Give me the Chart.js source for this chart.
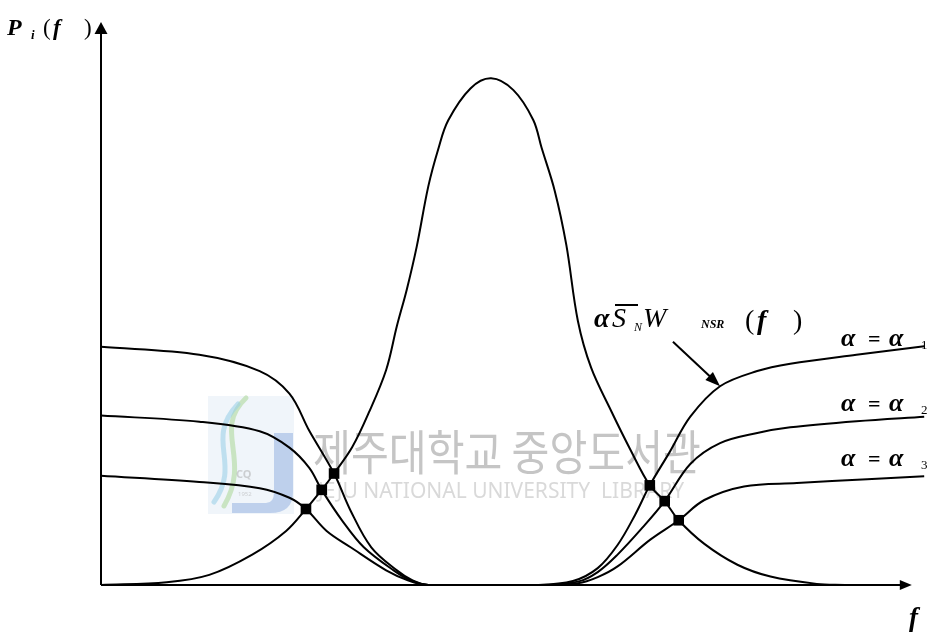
<!DOCTYPE html>
<html>
<head>
<meta charset="utf-8">
<script src="https://cdn.jsdelivr.net/npm/chart.js@4"></script>
<style>
  body { margin: 0; background: #fff; }
  canvas { display: block; }
</style>
</head>
<body>
<canvas id="grafico" width="935" height="636"></canvas>
<script>
// Signal spectrum (bell) and the three weighted noise curves, f on 0..100, P on 0..100
const sinalF = [0, 7.95, 13.1, 18.3, 22.4, 24.8, 26.7, 28.2, 30.4, 32.4, 34.5, 35.8, 37.0, 38.2, 39.6, 40.8, 42.0, 44.7, 47.2, 49.9, 52.3, 53.3, 54.9, 56.3, 57.7, 59.3, 61.7, 64.1, 66.4, 68.2, 69.9, 73.0, 77.0, 81.0, 86.6, 90];
const sinalP = [0, 0.5, 1.8, 5.4, 9.6, 13.5, 16.9, 19.8, 24.5, 30.6, 38.2, 46.0, 52.5, 60.1, 70.8, 77.4, 82.5, 88.2, 90.0, 87.9, 82.6, 77.7, 70.0, 60.4, 46.9, 38.6, 31.0, 23.9, 17.7, 14.9, 11.5, 7.3, 3.6, 1.5, 0.2, 0];

const alfa1F = [0, 11.9, 19.2, 22.8, 25.2, 28.2, 30.2, 32.7, 35.8, 37.7, 39.6, 52.9, 57.1, 60.1, 62.5, 64.6, 66.4, 68.8, 71.3, 74.9, 79.4, 83.4, 91.4, 99.6];
const alfa1P = [42.3, 40.9, 38.0, 34.0, 27.4, 19.8, 13.2, 6.7, 2.6, 0.8, 0, 0, 0.7, 3.0, 7.1, 12.4, 17.7, 23.6, 29.9, 35.3, 38.0, 39.3, 40.9, 42.4];

const alfa2F = [0, 11.9, 19.2, 22.8, 25.2, 26.7, 29.2, 31.8, 35.4, 37.5, 39.6, 52.9, 57.7, 60.1, 62.5, 65.4, 68.2, 71.3, 74.9, 79.4, 83.4, 91.4, 99.6];
const alfa2P = [30.1, 29.0, 27.3, 24.4, 20.8, 16.9, 11.4, 6.7, 2.6, 0.8, 0, 0, 0.6, 2.3, 5.4, 10.0, 14.9, 21.5, 25.2, 27.0, 28.0, 29.1, 29.9];

const alfa3F = [0, 11.9, 19.2, 22.8, 24.8, 27.3, 30.2, 34.5, 37.2, 39.6, 52.9, 57.7, 60.1, 62.5, 66.5, 69.9, 73.0, 77.8, 84.2, 92.7, 99.6];
const alfa3P = [19.4, 18.3, 17.2, 15.5, 13.5, 9.6, 6.7, 2.6, 0.8, 0, 0, 0.3, 1.4, 3.3, 8.1, 11.5, 15.1, 17.5, 18.1, 18.8, 19.3];

// crossing points of the bell with each curve
const cruzF = [24.8, 26.7, 28.2, 66.4, 68.2, 69.9];
const cruzP = [13.5, 16.9, 19.8, 17.7, 14.9, 11.5];

const indices = ["1", "2", "3"];
const fMaxEixo = 98.1;           // end of the f axis arrow
const setaInicio = [69.2, 43.2]; // tail of the pointer to the α1 curve

function pontos(fs, ps) {
  return fs.map((f, i) => ({ x: f, y: ps[i] }));
}

function curva(label, fs, ps) {
  return {
    label: label,
    data: pontos(fs, ps),
    borderColor: "#000",
    borderWidth: 2,
    pointRadius: 0,
    fill: false,
    tension: 0.35,
    clip: false,
  };
}

function setaCheia(ctx, x0, y0, x1, y1, comp, larg) {
  const ang = Math.atan2(y1 - y0, x1 - x0);
  ctx.beginPath();
  ctx.moveTo(x1, y1);
  ctx.lineTo(x1 - comp * Math.cos(ang) + larg * Math.sin(ang), y1 - comp * Math.sin(ang) - larg * Math.cos(ang));
  ctx.lineTo(x1 - comp * Math.cos(ang) - larg * Math.sin(ang), y1 - comp * Math.sin(ang) + larg * Math.cos(ang));
  ctx.closePath();
  ctx.fill();
}

function texto(ctx, s, x, y, font) {
  ctx.font = font;
  ctx.fillText(s, x, y);
}

const serif = "'Liberation Serif', 'Times New Roman', serif";

const desenhoPlugin = {
  id: "desenho",
  beforeDatasetsDraw(chart) {
    const ctx = chart.ctx;
    const sx = chart.scales.x;
    const sy = chart.scales.y;
    ctx.save();

    // library watermark
    ctx.fillStyle = "rgba(225, 235, 245, 0.5)";
    ctx.fillRect(208, 396, 86, 118);
    ctx.lineCap = "round";
    ctx.lineWidth = 5;
    ctx.strokeStyle = "rgba(170, 215, 150, 0.55)";
    ctx.beginPath();
    ctx.moveTo(246, 398);
    ctx.bezierCurveTo(212, 430, 252, 458, 224, 506);
    ctx.stroke();
    ctx.strokeStyle = "rgba(150, 205, 232, 0.55)";
    ctx.beginPath();
    ctx.moveTo(238, 404);
    ctx.bezierCurveTo(204, 440, 242, 462, 214, 502);
    ctx.stroke();
    ctx.fillStyle = "rgba(150, 178, 225, 0.55)";
    ctx.beginPath();
    ctx.moveTo(274, 433);
    ctx.lineTo(293, 433);
    ctx.lineTo(293, 492);
    ctx.quadraticCurveTo(293, 513, 270, 513);
    ctx.lineTo(232, 513);
    ctx.lineTo(232, 503);
    ctx.lineTo(266, 503);
    ctx.quadraticCurveTo(274, 503, 274, 492);
    ctx.closePath();
    ctx.fill();
    ctx.fillStyle = "rgba(160, 160, 160, 0.45)";
    ctx.font = "bold 11px 'Noto Sans'";
    ctx.fillText("CQ", 236, 478);
    ctx.font = "6px 'Noto Sans'";
    ctx.fillText("1952", 238, 496);

    ctx.fillStyle = "rgba(150, 150, 150, 0.55)";
    ctx.font = "48px 'Noto Sans CJK KR'";
    ctx.fillText("제주대학교 중앙도서관", 313, 470, 388);
    ctx.fillStyle = "rgba(170, 170, 170, 0.45)";
    ctx.font = "21px 'Noto Sans'";
    ctx.fillText("JEJU NATIONAL UNIVERSITY  LIBRARY", 318, 498, 390);

    // axes with arrow heads
    const x0 = sx.getPixelForValue(0);
    const y0 = sy.getPixelForValue(0);
    const yTopo = sy.getPixelForValue(100);
    const xFim = sx.getPixelForValue(fMaxEixo);
    ctx.strokeStyle = "#000";
    ctx.fillStyle = "#000";
    ctx.lineWidth = 2;
    ctx.lineCap = "butt";
    ctx.beginPath();
    ctx.moveTo(x0, y0);
    ctx.lineTo(x0, yTopo + 8);
    ctx.moveTo(x0, y0);
    ctx.lineTo(xFim - 8, y0);
    ctx.stroke();
    setaCheia(ctx, x0, y0, x0, yTopo, 12, 6.5);
    setaCheia(ctx, x0, y0, xFim, y0, 12, 5);
    ctx.restore();
  },
  afterDatasetsDraw(chart) {
    const ctx = chart.ctx;
    const sx = chart.scales.x;
    const sy = chart.scales.y;
    ctx.save();
    ctx.fillStyle = "#000";
    ctx.strokeStyle = "#000";
    ctx.textBaseline = "alphabetic";

    // P_i (f)
    texto(ctx, "P", 7, 35, "italic bold 24px " + serif);
    texto(ctx, "i", 31, 39, "italic bold 13px " + serif);
    texto(ctx, "(", 43, 35, "23px " + serif);
    texto(ctx, "f", 53, 35, "italic bold 23px " + serif);
    texto(ctx, ")", 84, 35, "23px " + serif);

    // f at the end of the horizontal axis
    texto(ctx, "f", 909, 626, "italic bold 27px " + serif);

    // αS̄_N W_NSR (f)
    texto(ctx, "α", 594, 327, "italic bold 28px " + serif);
    texto(ctx, "S", 612, 327, "italic 28px " + serif);
    ctx.lineWidth = 2;
    ctx.beginPath();
    ctx.moveTo(615, 305);
    ctx.lineTo(638, 305);
    ctx.stroke();
    texto(ctx, "N", 634, 331, "italic 12px " + serif);
    texto(ctx, "W", 643, 327, "italic 28px " + serif);
    texto(ctx, "NSR", 701, 328, "italic bold 12px " + serif);
    texto(ctx, "(", 745, 329, "28px " + serif);
    texto(ctx, "f", 757, 329, "italic bold 28px " + serif);
    texto(ctx, ")", 793, 329, "28px " + serif);

    // pointer to the α1 curve
    const ponta = 19;
    const ax0 = sx.getPixelForValue(setaInicio[0]);
    const ay0 = sy.getPixelForValue(setaInicio[1]);
    const ax1 = sx.getPixelForValue(alfa1F[ponta]);
    const ay1 = sy.getPixelForValue(alfa1P[ponta]);
    ctx.beginPath();
    ctx.moveTo(ax0, ay0);
    ctx.lineTo(ax1 - 6, ay1 - 6);
    ctx.stroke();
    setaCheia(ctx, ax0, ay0, ax1, ay1, 15, 5.5);

    // curve labels
    const linhasBase = [346, 411, 466];
    indices.forEach((n, i) => {
      const y = linhasBase[i];
      texto(ctx, "α", 841, y, "italic bold 26px " + serif);
      texto(ctx, "=", 868, y, "bold 22px " + serif);
      texto(ctx, "α", 889, y, "italic bold 26px " + serif);
      texto(ctx, n, 921, y + 3, "13px " + serif);
    });
    ctx.restore();
  },
};

const grafico = new Chart(document.getElementById("grafico"), {
  type: "line",
  data: {
    datasets: [
      curva("sinal", sinalF, sinalP),
      curva("α = α1", alfa1F, alfa1P),
      curva("α = α2", alfa2F, alfa2P),
      curva("α = α3", alfa3F, alfa3P),
      {
        label: "cruzamentos",
        data: pontos(cruzF, cruzP),
        showLine: false,
        pointStyle: "rect",
        pointRadius: 7.5,
        pointBackgroundColor: "#000",
        pointBorderColor: "#000",
        pointBorderWidth: 0,
        clip: false,
      },
    ],
  },
  options: {
    responsive: false,
    animation: false,
    devicePixelRatio: 1,
    layout: { padding: { left: 101, right: 4, top: 22, bottom: 51 } },
    scales: {
      x: { type: "linear", min: 0, max: 100, display: false },
      y: { type: "linear", min: 0, max: 100, display: false },
    },
    plugins: {
      legend: { display: false },
      tooltip: { enabled: false },
    },
    events: [],
  },
  plugins: [desenhoPlugin],
});
</script>
</body>
</html>
